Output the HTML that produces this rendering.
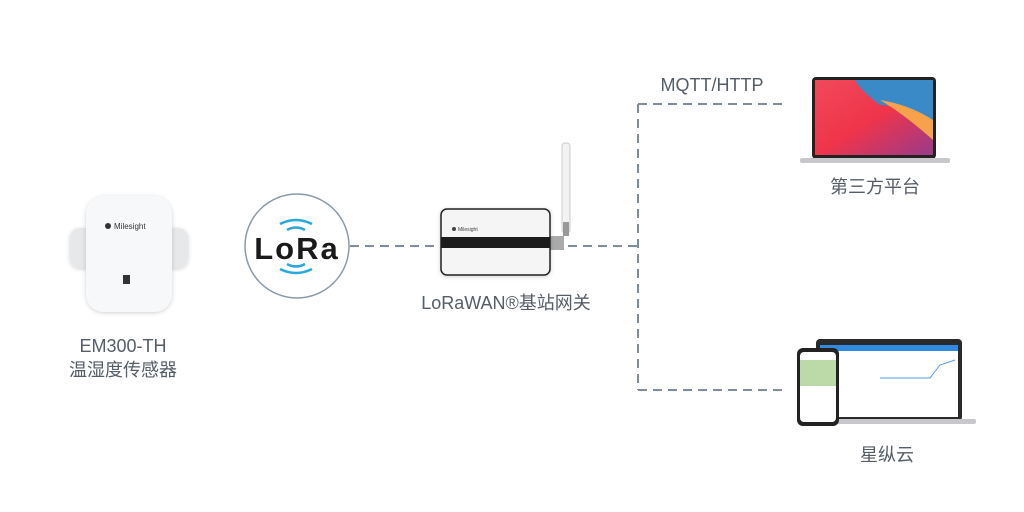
<!DOCTYPE html>
<html><head><meta charset="utf-8"><style>
body{margin:0;width:1024px;height:512px;background:#fff;position:relative;overflow:hidden;font-family:"Liberation Sans","Noto Sans CJK SC",sans-serif;color:#555d66}
.t{position:absolute;font-size:18px;text-align:center;white-space:nowrap;line-height:22px;width:200px}
</style></head><body>
<svg width="1024" height="512" style="position:absolute;left:0;top:0">
<defs>
<linearGradient id="scr" x1="0" y1="0" x2="1" y2="1">
<stop offset="0" stop-color="#f04a5a"/><stop offset="0.5" stop-color="#f0344a"/><stop offset="1" stop-color="#9a3a8a"/></linearGradient>
<filter id="sh" x="-20%" y="-20%" width="140%" height="140%"><feDropShadow dx="0" dy="1" stdDeviation="2" flood-color="#000" flood-opacity="0.18"/></filter>
</defs>
<g stroke="#7d8d9b" stroke-width="2" stroke-dasharray="9,6" fill="none">
<line x1="350" y1="246" x2="440" y2="246"/>
<line x1="568" y1="246" x2="638" y2="246"/>
<line x1="638" y1="104" x2="638" y2="390"/>
<line x1="638" y1="104" x2="784" y2="104"/>
<line x1="638" y1="390" x2="784" y2="390"/>
</g>
<!-- sensor -->
<rect x="70" y="228" width="26" height="40" rx="10" fill="#e6e8ea" filter="url(#sh)"/>
<rect x="162" y="228" width="26" height="40" rx="10" fill="#e6e8ea" filter="url(#sh)"/>
<rect x="86" y="196" width="86" height="116" rx="18" fill="#f7f8f9" filter="url(#sh)"/>
<circle cx="108" cy="226" r="3" fill="#333"/>
<text x="114" y="229" font-size="8" fill="#333" font-family="Liberation Sans">Milesight</text>
<rect x="123" y="275" width="7" height="9" fill="#333"/>
<!-- LoRa -->
<circle cx="297" cy="246" r="52" fill="#fff" stroke="#8a9aa8" stroke-width="1.5"/>
<text x="297" y="259" text-anchor="middle" font-size="31" font-weight="bold" fill="#1a1a1a" font-family="Liberation Sans" letter-spacing="2">LoRa</text>
<g fill="none" stroke="#29a8e0" stroke-width="2.5">
<path d="M280 224 q16 -8 32 0"/><path d="M287 230 q9 -5 18 0"/>
<path d="M280 269 q16 8 32 0"/><path d="M287 264 q9 5 18 0"/>
</g>
<!-- gateway -->
<rect x="562" y="143" width="8" height="90" rx="3" fill="#f2f2f2" stroke="#ccc"/>
<rect x="563" y="222" width="6" height="14" fill="#999"/>
<rect x="550" y="236" width="14" height="14" fill="#aaa"/>
<rect x="441" y="209" width="109" height="66" rx="6" fill="#f5f5f5" stroke="#222" stroke-width="1.5" filter="url(#sh)"/>
<rect x="441" y="237" width="109" height="11" fill="#1c1c1c"/>
<circle cx="454" cy="229" r="2" fill="#444"/>
<text x="458" y="231" font-size="5" fill="#444">Milesight</text>
<!-- laptop top -->
<rect x="812" y="77" width="124" height="82" rx="4" fill="#222"/>
<rect x="815" y="80" width="118" height="75" fill="url(#scr)"/>
<path d="M855 80 L933 80 L933 125 Q900 105 880 105 Q860 90 855 80Z" fill="#3a8ac8"/>
<path d="M880 100 Q910 105 933 120 L933 140 Q905 115 880 100Z" fill="#f6a24a"/>
<rect x="800" y="158" width="150" height="5" rx="2" fill="#c8c8cc"/>
<!-- laptop bottom -->
<rect x="816" y="339" width="146" height="82" rx="4" fill="#2a2a2a"/>
<rect x="820" y="345" width="138" height="72" fill="#fff"/>
<rect x="820" y="345" width="138" height="6" fill="#2f8ae0"/>
<polyline points="880,378 900,378 930,378 940,365 955,360" fill="none" stroke="#5a9ee0" stroke-width="1"/>
<rect x="800" y="419" width="176" height="5" rx="2" fill="#c8c8cc"/>
<rect x="797" y="348" width="42" height="78" rx="6" fill="#222"/>
<rect x="800" y="352" width="36" height="70" rx="4" fill="#fff"/>
<rect x="800" y="360" width="36" height="26" fill="#bcd9a8"/>
</svg>
<div class="t" style="left:612px;top:74px;">MQTT/HTTP</div>
<div class="t" style="left:775px;top:176px;">第三方平台</div>
<div class="t" style="left:787px;top:444px;">星纵云</div>
<div class="t" style="left:23px;top:335px;">EM300-TH</div>
<div class="t" style="left:23px;top:359px;">温湿度传感器</div>
<div class="t" style="left:406px;top:292px;">LoRaWAN®基站网关</div>
</body></html>
